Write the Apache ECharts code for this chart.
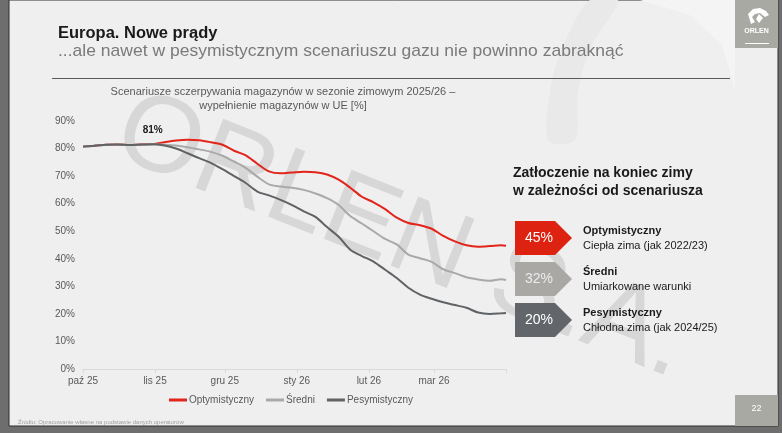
<!DOCTYPE html>
<html><head><meta charset="utf-8">
<script src="https://cdn.jsdelivr.net/npm/echarts@6/dist/echarts.min.js"></script>
<style>html,body{margin:0;padding:0;background:#6e6e6e}#c{width:782px;height:433px}</style>
</head><body><div id="c"></div>
<script>
// ---- data ----
const monthNames = ['paź','lis','gru','sty','lut','mar','kwi'];
const sampleDays = [0,5,10,15,20,25,30,35,40,45,50,55,60,65,70,75,80,85,90,95,100,105,110,115,120,125,130,135,140,145,150,155,160,165,170,175,180,182];
const optimistic = [80.7,81.0,81.4,81.5,81.3,81.5,81.6,82.3,82.9,83.2,83.0,82.3,81.4,79.2,77.5,74.5,71.7,71.0,71.3,71.6,71.4,70.6,68.7,65.8,62.5,60.5,58.0,54.9,53.0,52.2,50.9,48.3,46.3,44.9,44.4,44.6,44.9,44.7];
const medium = [80.7,81.0,81.4,81.5,81.3,81.5,81.6,81.4,81.1,80.5,79.7,78.8,77.4,75.3,73.0,69.8,67.0,66.2,65.8,65.0,63.7,62.0,59.5,55.5,52.8,50.0,47.2,45.2,41.5,40.2,38.9,36.2,34.8,33.3,32.5,32.0,32.6,32.3];
const pessimistic = [80.7,81.0,81.4,81.5,81.3,81.5,81.6,81.1,80.0,78.3,76.5,74.8,72.5,70.0,67.5,64.4,63.0,61.4,59.5,57.2,55.2,51.5,48.0,43.3,41.0,39.0,36.0,33.0,29.5,27.0,25.5,24.2,23.2,22.2,20.5,20.0,20.2,20.3];
const seriesNames = ['Optymistyczny','Średni','Pesymistyczny'];
const endValues = ['45%','32%','20%'];
const scenarioTitles = ['Optymistyczny','Średni','Pesymistyczny'];
const scenarioDesc = ['Ciepła zima (jak 2022/23)','Umiarkowane warunki','Chłodna zima (jak 2024/25)'];
const peakLabel = '81%';
const peakDay = 30;
const peakValue = 81.6;
const yTicks = {min:0, max:90, interval:10};

// build daily category axis Oct 1 2025 .. Apr 1 2026
const cats = [];
const start = new Date(Date.UTC(2025,9,1));
for (let i=0;i<=182;i++){ const d=new Date(start.getTime()+i*86400000); cats.push(d.toISOString().slice(0,10)); }
function toDaily(vals){
  const arr = new Array(cats.length).fill(null);
  sampleDays.forEach((d,i)=>{ arr[d]=vals[i]; });
  return arr;
}
function monthLabel(v){ const m=+v.slice(5,7); const y=v.slice(2,4); const idx=(m+2)%12; return monthNames[idx]+' '+y; }
function isMonthStart(i){ return cats[i].slice(8,10)==='01'; }

const colors = ['#e1251b','#a9a9a8','#606366'];
const boxColors = ['#dd2211','#a9a8a5','#62666a'];
const boxTextColors = ['#ffffff','#ececec','#ffffff'];
const boxTops = [221,262,303];

const chart = echarts.init(document.getElementById('c'));
const FONT = 'Liberation Sans, Arial, sans-serif';

const graphics = [
  {type:'rect', z:-100, shape:{x:9,y:0,width:769,height:426}, style:{fill:'#efefef', stroke:'#2e2e2e', lineWidth:1}},
  // background logo swooshes (top-right)
  {type:'polygon', z:-90, shape:{points:[[590,0],[568,35],[552,80],[548,140],[575,140],[578,90],[592,45],[618,0]], smooth:0.3}, style:{fill:'#e9e9e9'}},
  {type:'polygon', z:-90, shape:{points:[[640,0],[690,15],[722,45],[735,90],[735,0]]}, style:{fill:'#f4f4f4'}},
  // watermark
  {type:'text', z:-80, x:402, y:238, rotation:-0.38, style:{text:'ORLEN S.A.', font:'108px '+FONT, fill:'#d7d7d7', align:'center', verticalAlign:'middle'}},
  // headline
  {type:'text', z:5, x:58, y:25, scaleX:0.97, style:{text:'Europa. Nowe prądy', font:'bold 17px '+FONT, fill:'#1a1a1a', verticalAlign:'top'}},
  {type:'text', z:5, x:58, y:43, scaleX:1.03, style:{text:'...ale nawet w pesymistycznym scenariuszu gazu nie powinno zabraknąć', font:'17px '+FONT, fill:'#7a7a7a', verticalAlign:'top'}},
  {type:'line', z:5, shape:{x1:52,y1:78.5,x2:730,y2:78.5}, style:{stroke:'#5a5a5a', lineWidth:1}},
  // logo box
  {type:'rect', z:5, shape:{x:735,y:0,width:43,height:48}, style:{fill:'#a9a9a4'}},
  {type:'polygon', z:6, shape:{points:[[748,14],[753,9],[760,8],[766,11],[769,15],[765,17],[760,13],[755,14],[752,17],[755,22],[751,24]]}, style:{fill:'#ffffff'}},
  {type:'polygon', z:6, shape:{points:[[759,14],[763,18],[759,23],[756,19]]}, style:{fill:'#ffffff'}},
  {type:'text', z:6, x:756.5, y:31, style:{text:'ORLEN', font:'bold 7px '+FONT, fill:'#ffffff', align:'center', verticalAlign:'middle'}},
  {type:'line', z:6, shape:{x1:745,y1:43.5,x2:769,y2:43.5}, style:{stroke:'#ffffff', lineWidth:1}},
  // chart title
  {type:'text', z:5, x:283, y:92, style:{text:'Scenariusze sczerpywania magazynów w sezonie zimowym 2025/26 –', font:'11px '+FONT, fill:'#595959', align:'center', verticalAlign:'middle'}},
  {type:'text', z:5, x:283, y:106, style:{text:'wypełnienie magazynów w UE [%]', font:'11px '+FONT, fill:'#595959', align:'center', verticalAlign:'middle'}},
  // right panel
  {type:'text', z:5, left:513, top:166, style:{text:'Zatłoczenie na koniec zimy', font:'bold 14px '+FONT, fill:'#1a1a1a'}},
  {type:'text', z:5, left:513, top:184, style:{text:'w zależności od scenariusza', font:'bold 14px '+FONT, fill:'#1a1a1a'}},
  // footer
  {type:'text', z:5, left:18, top:419, style:{text:'Źródło: Opracowanie własne na podstawie danych operatorów', font:'6px '+FONT, fill:'#a0a0a0'}},
  {type:'rect', z:5, shape:{x:735,y:395,width:43,height:31}, style:{fill:'#a9a9a4'}},
  {type:'text', z:6, x:756.5, y:409, style:{text:'22', font:'9px '+FONT, fill:'#ffffff', align:'center', verticalAlign:'middle'}}
];
boxTops.forEach((t,i)=>{
  const h=34;
  graphics.push({type:'polygon', z:5, shape:{points:[[515,t],[555,t],[572,t+h/2],[555,t+h],[515,t+h]]}, style:{fill:boxColors[i]}});
  graphics.push({type:'text', z:6, x:539, y:t+h/2+0.5, style:{text:endValues[i], font:'14px '+FONT, fill:boxTextColors[i], align:'center', verticalAlign:'middle'}});
  graphics.push({type:'text', z:6, left:583, top:t+4, style:{text:scenarioTitles[i], font:'bold 11px '+FONT, fill:'#1a1a1a'}});
  graphics.push({type:'text', z:6, left:583, top:t+19, style:{text:scenarioDesc[i], font:'11px '+FONT, fill:'#1a1a1a'}});
});

chart.setOption({
  backgroundColor:'#6e6e6e',
  animation:false,
  textStyle:{fontFamily:FONT},
  graphic:{elements:graphics},
  grid:{left:83, right:276, top:121, bottom:64, containLabel:false},
  legend:{
    data:seriesNames, left:164, top:390, itemWidth:18, itemHeight:3, itemGap:12, icon:'rect',
    textStyle:{fontSize:10, color:'#595959', fontFamily:FONT, padding:[0,0,0,-3]}
  },
  xAxis:{
    type:'category', data:cats, boundaryGap:false,
    axisLine:{lineStyle:{color:'#d9d9d9'}},
    axisTick:{interval:(i)=>isMonthStart(i), length:4, lineStyle:{color:'#d9d9d9'}},
    axisLabel:{interval:(i)=>isMonthStart(i) && i<182, formatter:monthLabel, color:'#595959', fontSize:10, margin:7},
    splitLine:{show:false}
  },
  yAxis:{
    type:'value', min:yTicks.min, max:yTicks.max, interval:yTicks.interval,
    axisLine:{show:false}, axisTick:{show:false}, splitLine:{show:false},
    axisLabel:{formatter:'{value}%', color:'#595959', fontSize:10, margin:8}
  },
  series:[
    {name:seriesNames[0], type:'line', data:toDaily(optimistic), connectNulls:true, smooth:0.3, showSymbol:false, symbol:'none', lineStyle:{width:2, color:colors[0]}, itemStyle:{color:colors[0]}},
    {name:seriesNames[1], type:'line', data:toDaily(medium), connectNulls:true, smooth:0.3, showSymbol:false, symbol:'none', lineStyle:{width:2, color:colors[1]}, itemStyle:{color:colors[1]}},
    {name:seriesNames[2], type:'line', data:toDaily(pessimistic), connectNulls:true, smooth:0.3, showSymbol:false, symbol:'none', lineStyle:{width:2, color:colors[2]}, itemStyle:{color:colors[2]},
      markPoint:{silent:true, symbol:'circle', symbolSize:1, itemStyle:{color:'rgba(0,0,0,0)'},
        data:[{coord:[cats[peakDay], peakValue]}],
        label:{show:true, formatter:peakLabel, position:'top', distance:8, fontSize:10, fontWeight:'bold', color:'#1a1a1a', fontFamily:FONT}}}
  ]
});
</script></body></html>
